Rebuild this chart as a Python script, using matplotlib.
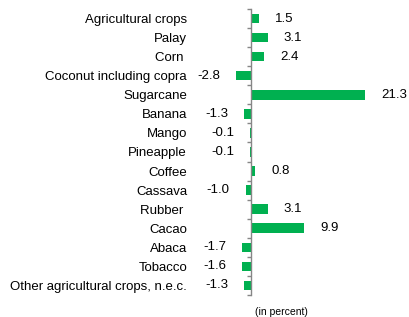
import matplotlib
matplotlib.use("Agg")
import matplotlib.pyplot as plt
import numpy as np

plt.rcParams['font.family'] = ['Liberation Sans', 'DejaVu Sans']

# data
crops = ["Agricultural crops", "Palay", "Corn ", "Coconut including copra", "Sugarcane",
         "Banana", "Mango", "Pineapple", "Coffee", "Cassava", "Rubber ", "Cacao",
         "Abaca", "Tobacco", "Other agricultural crops, n.e.c."]
growth = [1.5, 3.1, 2.4, -2.8, 21.3, -1.3, -0.1, -0.1, 0.8, -1.0, 3.1, 9.9, -1.7, -1.6, -1.3]

W, H = 409, 317
fig = plt.figure(figsize=(W / 100, H / 100), dpi=100)

# axes placed so the zero line sits at x=251px, spanning y 9..295px
left_px, right_px = 200, 405
ax = fig.add_axes([left_px / W, (H - 295) / H, (right_px - left_px) / W, 286 / H])
ppu = 5.36  # pixels per percent
ax.set_xlim(-(251 - left_px) / ppu, (right_px - 251) / ppu)

y = np.arange(len(crops))
ax.barh(y, growth, height=0.5, color='#00B050')
ax.set_ylim(len(crops) - 0.5, -0.5)

for s in ['top', 'right', 'bottom']:
    ax.spines[s].set_visible(False)
ax.spines['left'].set_position(('data', 0))
ax.spines['left'].set_color('#868686')
ax.spines['left'].set_linewidth(1.0)

ax.set_xticks([])
ax.set_yticks(y)
ax.set_yticklabels(crops, fontsize=9.5)
ax.tick_params(axis='y', which='major', length=0, pad=46)
ax.set_yticks(np.arange(-0.5, len(crops)), minor=True)
ax.tick_params(axis='y', which='minor', length=3, width=1, color='#868686', direction='out')

for yi, v in zip(y, growth):
    if v >= 0:
        ax.annotate(f"{v:.1f}", (v, yi), xytext=(11.5, 0), textcoords='offset points',
                    ha='left', va='center', fontsize=9.5)
    else:
        ax.annotate(f"{v:.1f}", (v, yi), xytext=(-11.5, 0), textcoords='offset points',
                    ha='right', va='center', fontsize=9.5)

fig.text(255 / W, (H - 312) / H, "(in percent)", ha='left', va='center', fontsize=7.5)

fig.savefig("out.png", dpi=100)
